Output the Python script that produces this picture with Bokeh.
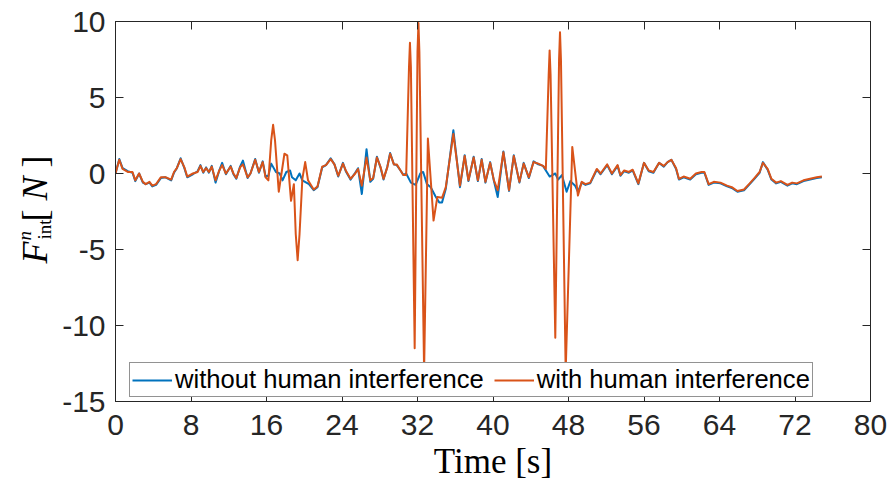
import math
from bokeh.plotting import figure
from bokeh.layouts import row
from bokeh.models import FixedTicker, LinearAxis, Legend, LegendItem, Range1d
from bokeh.core.properties import value
from bokeh.embed import file_html
from bokeh.resources import INLINE

# ---------------- data ----------------
x_ticks = [0, 8, 16, 24, 32, 40, 48, 56, 64, 72, 80]
x_tick_labels = ["0", "8", "16", "24", "32", "40", "48", "56", "64", "72", "80"]
y_ticks = [-15, -10, -5, 0, 5, 10]
y_tick_labels = ["-15", "-10", "-5", "0", "5", "10"]

series_names = ["without human interference", "with human interference"]
x_title = "Time [s]"

t_without = [0, 0.4, 0.75, 1.3, 1.8, 2.1, 2.5, 2.9, 3.2, 3.6, 3.9, 4.3, 4.8, 5.3, 5.9,
             6.2, 6.5, 6.9, 7.3, 7.6, 8.2, 8.7, 9.0, 9.3, 9.6, 9.9, 10.2, 10.6, 11.0,
             11.3, 11.7, 12.2, 12.5, 12.8, 13.2, 13.5, 14.0, 14.3, 14.8, 15.2, 15.6,
             15.9, 16.2, 16.5, 17.0, 17.4, 17.7, 18.1, 18.5, 18.7, 19.1, 19.5, 19.8,
             20.5, 21.0, 21.4, 21.9, 22.3, 22.8, 23.2, 23.6, 24.1, 24.4, 24.9, 25.4,
             25.7, 26.1, 26.6, 27.0, 27.3, 27.7, 28.1, 28.4, 28.8, 29.1, 29.5, 29.8,
             30.2, 30.5, 30.8, 31.3, 31.8, 32.3, 32.6, 33.0, 33.4, 33.9, 34.3, 34.6,
             35.0, 35.8, 36.5, 37.0, 37.4, 37.95, 38.4, 38.8, 39.2, 39.7, 40.1, 40.5,
             41.1, 41.7, 42.2, 42.8, 43.25, 43.8, 44.3, 44.8, 45.3, 45.5, 46.0, 46.6,
             46.9, 47.3, 47.8, 48.2, 48.7, 49.0, 49.4, 49.8, 50.3, 51.0, 51.4, 52.1,
             52.6, 53.2, 53.5, 53.9, 54.4, 54.8, 55.4, 56.0, 56.5, 57.0, 57.6, 58.1,
             58.5, 58.9, 59.4, 59.7, 60.2, 60.9, 61.5, 62.1, 62.4, 62.85, 63.4, 64.1,
             64.8, 65.3, 65.9, 66.6, 67.2, 67.7, 68.25, 68.6, 69.1, 69.5, 70.0, 70.5,
             71.2, 71.7, 72.2, 72.9, 73.6, 74.3, 74.85]
f_without = [0.0, 0.95, 0.35, 0.15, 0.05, -0.5, 0.0, -0.6, -0.7, -0.6, -0.85, -0.75, -0.3,
             -0.25, -0.45, 0.05, 0.35, 1.0, 0.35, -0.25, -0.05, 0.15, 0.55, 0.05, 0.4,
             0.05, 0.5, -0.6, 0.2, 0.7, -0.05, 0.5, -0.05, -0.35, 0.45, 0.85, -0.3, 0.0,
             0.95, 0.05, 0.8, -0.2, -0.15, 0.65, 0.1, 0.0, -0.45, 0.1, 0.2, -0.25, -0.45,
             0.0, -0.45, -0.7, -1.1, -0.9, 0.4, 0.55, 1.0, 0.6, -0.2, 0.7, 0.15, -0.4,
             0.05, 0.35, -1.35, 1.6, -0.55, -0.35, 1.1, 0.35, -0.4, 0.45, 1.35, 0.6, 0.55,
             0.2, -0.1, 0.0, -0.6, -0.75, 0.0, 0.1, -0.7, -0.9, -1.5, -1.9, -1.9, -1.0,
             2.85, -0.9, 1.2, -0.5, 1.1, -0.5, 0.95, -0.6, 0.75, -0.5, -1.55, 1.45,
             -1.15, 1.2, -0.6, 0.7, -0.3, 0.8, 0.6, 0.5, 0.3, -0.2, 0.0, -0.4, -0.1,
             -1.2, -0.5, -0.8, -1.2, -0.6, -0.75, -0.65, 0.25, -0.05, 0.55, -0.05, 0.5,
             -0.15, 0.15, 0.05, 0.2, -0.7, 0.7, 0.15, 0.05, 0.7, 0.45, 0.75, 0.9, 0.3,
             -0.4, -0.25, -0.4, -0.05, 0.05, 0.05, -0.75, -0.6, -0.65, -0.85, -0.95,
             -1.2, -1.1, -0.7, -0.35, 0.05, 0.75, 0.25, -0.4, -0.65, -0.55, -0.8, -0.65,
             -0.7, -0.5, -0.4, -0.3, -0.25]

t_with = [0, 0.4, 0.75, 1.3, 1.8, 2.1, 2.5, 2.9, 3.2, 3.6, 3.9, 4.3, 4.8, 5.3, 5.9,
          6.2, 6.5, 6.9, 7.3, 7.6, 8.2, 8.7, 9.0, 9.3, 9.6, 9.9, 10.2, 10.6, 11.0,
          11.3, 11.7, 12.2, 12.5, 12.8, 13.2, 13.5, 14.0, 14.3, 14.8, 15.2, 15.6,
          15.9, 16.2, 16.5, 16.7, 16.9, 17.3, 17.9, 18.2, 18.6, 18.9, 19.1, 19.3, 19.5,
          19.8, 20.1, 20.4, 21.0, 21.4, 21.9, 22.3, 22.8, 23.2, 23.6, 24.1, 24.4, 24.9,
          25.4, 25.7, 26.1, 26.6, 27.0, 27.3, 27.7, 28.1, 28.4, 28.8, 29.1, 29.5, 29.8,
          30.2, 30.5, 30.8, 31.1, 31.2, 31.3, 31.7, 32.0, 32.1, 32.2, 32.7, 33.1, 33.7,
          34.1, 34.6, 35.0, 35.8, 36.5, 37.0, 37.4, 37.95, 38.4, 38.8, 39.2, 39.7, 40.1,
          40.5, 41.1, 41.7, 42.2, 42.8, 43.25, 43.8, 44.3, 44.8, 45.3, 45.6, 45.9, 46.0,
          46.1, 46.6, 47.0, 47.1, 47.2, 47.7, 48.4, 49.0, 49.4, 49.8, 50.3, 51.0, 51.4,
          52.1, 52.6, 53.2, 53.5, 53.9, 54.4, 54.8, 55.4, 56.0, 56.5, 57.0, 57.6, 58.1,
          58.5, 58.9, 59.4, 59.7, 60.2, 60.9, 61.5, 62.1, 62.4, 62.85, 63.4, 64.1, 64.8,
          65.3, 65.9, 66.6, 67.2, 67.7, 68.25, 68.6, 69.1, 69.5, 70.0, 70.5, 71.2, 71.7,
          72.2, 72.9, 73.6, 74.3, 74.85]
f_with = [0.0, 0.9, 0.3, 0.1, 0.1, -0.45, 0.0, -0.55, -0.7, -0.55, -0.8, -0.7, -0.25,
          -0.25, -0.4, 0.1, 0.35, 0.95, 0.4, -0.2, 0.0, 0.1, 0.5, 0.1, 0.35, 0.1, 0.45,
          -0.45, 0.2, 0.55, 0.0, 0.45, 0.0, -0.3, 0.4, 0.6, -0.25, 0.0, 0.9, 0.1, 0.75,
          -0.25, -0.45, 2.2, 3.2, 2.2, -1.2, 1.3, 1.2, -1.8, -0.7, -4.0, -5.7, -4.0,
          -0.35, 0.75, -0.45, -1.05, -0.85, 0.45, 0.55, 0.95, 0.6, -0.15, 0.65, 0.2,
          -0.35, 0.0, 0.3, -0.8, 1.05, -0.45, -0.3, 1.05, 0.4, -0.35, 0.4, 1.3, 0.6, 0.6,
          0.2, -0.1, -0.1, 7.0, 8.6, 7.0, -11.5, 8.0, 9.9, 8.0, -13.0, 2.3, -3.1, -1.55,
          -1.6, -0.9, 2.6, -0.8, 1.15, -0.45, 1.05, -0.45, 0.9, -0.55, 0.7, -0.45, -1.1,
          1.4, -1.1, 1.15, -0.55, 0.65, -0.25, 0.75, 0.65, 0.5, 0.3, 6.5, 8.1, 6.5,
          -10.8, 7.5, 9.3, 7.5, -13.0, 1.75, -1.45, -0.55, -0.7, -0.6, 0.3, 0.0, 0.6,
          0.0, 0.55, -0.1, 0.2, 0.1, 0.25, -0.65, 0.7, 0.2, 0.1, 0.7, 0.5, 0.75, 0.9,
          0.35, -0.35, -0.2, -0.35, 0.0, 0.1, 0.1, -0.7, -0.55, -0.6, -0.8, -0.9, -1.15,
          -1.05, -0.65, -0.3, 0.1, 0.7, 0.3, -0.35, -0.6, -0.5, -0.75, -0.6, -0.65,
          -0.45, -0.35, -0.25, -0.2]

# ---------------- style ----------------
AX = "#262626"
BLUE = "#0072BD"
ORANGE = "#D95319"
SANS = "Liberation Sans"
SERIF = "Liberation Serif"
YLAB_W = 58          # width of the narrow figure holding the y title
H = 490
FT, FB = 21, 401     # frame top / bottom (canvas px)

p = figure(width=890 - YLAB_W, height=H, output_backend="svg", toolbar_location=None,
           x_range=Range1d(0, 80), y_range=Range1d(-15, 10),
           min_border_left=115 - YLAB_W, min_border_right=20, min_border_top=FT,
           min_border_bottom=H - FB, background_fill_color="white",
           border_fill_color="white")
p.grid.visible = False
p.outline_line_color = AX
p.outline_line_width = 1


def style_axis(ax, ticks, labels, show_labels, standoff):
    ax.ticker = FixedTicker(ticks=ticks)
    ax.major_tick_in = 8
    ax.major_tick_out = 0
    ax.minor_tick_in = 0
    ax.minor_tick_out = 0
    ax.axis_line_color = AX
    ax.major_tick_line_color = AX
    ax.major_label_standoff = standoff
    if show_labels:
        ax.major_label_overrides = {t: l for t, l in zip(ticks, labels)}
        ax.major_label_text_font = SANS
        ax.major_label_text_font_size = "30px"
        ax.major_label_text_color = AX
    else:
        ax.major_label_text_font_size = "1px"
        ax.major_label_text_color = None


style_axis(p.xaxis[0], x_ticks, x_tick_labels, True, 13)
style_axis(p.yaxis[0], y_ticks, y_tick_labels, True, 10)
p.xaxis[0].axis_label = x_title
p.xaxis[0].axis_label_text_font = SERIF
p.xaxis[0].axis_label_text_font_size = "35px"
p.xaxis[0].axis_label_text_font_style = "normal"
p.xaxis[0].axis_label_text_color = "black"
p.xaxis[0].axis_label_standoff = 4

top_ax = LinearAxis()
right_ax = LinearAxis()
style_axis(top_ax, x_ticks, x_tick_labels, False, 0)
style_axis(right_ax, y_ticks, y_tick_labels, False, 0)
p.add_layout(top_ax, "above")
p.add_layout(right_ax, "right")

r_blue = p.line(t_without, f_without, line_color=BLUE, line_width=2, line_join="round")
r_orange = p.line(t_with, f_with, line_color=ORANGE, line_width=2, line_join="round")

legend = Legend(items=[LegendItem(label=series_names[0], renderers=[r_blue]),
                       LegendItem(label=series_names[1], renderers=[r_orange])],
                orientation="horizontal", location=(14, 4),
                glyph_width=40, glyph_height=20, label_height=28,
                label_standoff=3, spacing=10, padding=2, margin=0,
                label_text_font=SANS, label_text_font_size="25.6px",
                label_text_color="black",
                border_line_color=AX, border_line_width=1,
                background_fill_color="white", background_fill_alpha=1)
p.add_layout(legend)

# ---------------- y title: F^n_int [N] in a narrow side figure ----------------
# The row aligns this figure's frame with the main frame (canvas y 21..401).
yl = figure(width=YLAB_W, height=H, output_backend="svg", toolbar_location=None,
            x_range=Range1d(0, YLAB_W), y_range=Range1d(0, FB - FT),
            x_axis_type=None, y_axis_type=None, min_border=0,
            min_border_left=0, min_border_right=0, min_border_top=0, min_border_bottom=0,
            outline_line_color=None, background_fill_color="white",
            border_fill_color="white")
yl.grid.visible = False

A = math.pi / 2
ylabel_parts = [  # text, centre-line x (canvas px), start y (canvas px), size, style
    ("F", 34, 263, "36px", "italic"),
    ("n", 24, 240, "19px", "italic"),
    ("int", 44, 239, "19px", "normal"),
    ("[", 34, 221, "36px", "normal"),
    ("N", 34, 200, "36px", "italic"),
    ("]", 34, 167, "36px", "normal"),
]
for txt, cx, cy, size, style in ylabel_parts:
    yl.text(x=[cx], y=[FB - cy], text=[txt], angle=A, text_font=value(SERIF),
            text_font_size=size, text_font_style=style, text_color="black",
            text_align="left", text_baseline="middle")

layout = row(yl, p, spacing=0)
open("out.html", "w").write(file_html(layout, INLINE))
